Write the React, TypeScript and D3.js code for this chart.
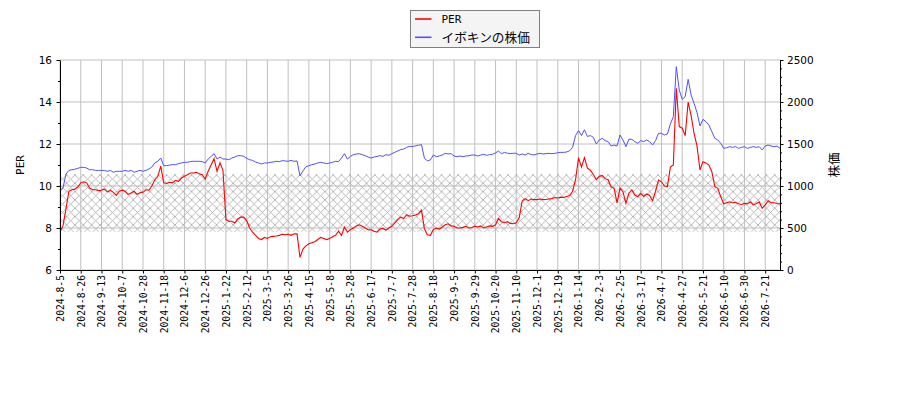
import React, { useEffect, useRef } from 'react';
import * as d3 from 'd3';

// one label every 7 samples (samples are ~2 trading days apart)
const tickLabels = [
  '2024-8-5', '2024-8-26', '2024-9-13', '2024-10-7', '2024-10-28', '2024-11-18', '2024-12-6',
  '2024-12-26', '2025-1-22', '2025-2-12', '2025-3-5', '2025-3-26', '2025-4-15', '2025-5-8',
  '2025-5-28', '2025-6-17', '2025-7-7', '2025-7-28', '2025-8-18', '2025-9-5', '2025-9-29',
  '2025-10-20', '2025-11-10', '2025-12-1', '2025-12-19', '2026-1-14', '2026-2-3', '2026-2-25',
  '2026-3-17', '2026-4-7', '2026-4-27', '2026-5-21', '2026-6-10', '2026-6-30', '2026-7-21',
];

const perValues = [
  7.82, 8.1, 8.9, 9.75, 9.82, 9.85, 9.95,
  10.15, 10.2, 10.15, 9.9, 9.82, 9.82, 9.78,
  9.8, 9.85, 9.72, 9.8, 9.7, 9.55, 9.75,
  9.8, 9.75, 9.6, 9.67, 9.75, 9.6, 9.68,
  9.7, 9.82, 9.8, 10.0, 10.3, 10.45, 10.95,
  10.15, 10.12, 10.18, 10.15, 10.27, 10.22, 10.38,
  10.46, 10.54, 10.62, 10.62, 10.65, 10.58, 10.54,
  10.33, 10.7, 11.0, 11.3, 10.7, 11.1, 10.75,
  8.4, 8.32, 8.32, 8.24, 8.43, 8.52, 8.52,
  8.35, 8.0, 7.8, 7.65, 7.5, 7.45, 7.55,
  7.5, 7.58, 7.6, 7.62, 7.65, 7.7, 7.68,
  7.7, 7.65, 7.72, 7.72, 6.6, 7.0, 7.15,
  7.25, 7.3, 7.35, 7.45, 7.55, 7.5, 7.45,
  7.5, 7.58, 7.65, 7.85, 7.65, 8.05, 7.8,
  7.92, 8.0, 8.1, 8.15, 8.08, 8.0, 7.92,
  7.92, 7.85, 7.8, 7.95, 7.98, 7.9, 8.0,
  8.08, 8.24, 8.4, 8.52, 8.45, 8.63, 8.56,
  8.58, 8.62, 8.68, 8.85, 7.95, 7.68, 7.65,
  7.92, 8.0, 7.95, 8.05, 8.15, 8.2, 8.1,
  8.08, 8.0, 8.0, 8.03, 8.08, 8.0, 8.02,
  8.08, 8.05, 8.1, 8.0, 8.05, 8.1, 8.08,
  8.15, 8.45, 8.3, 8.25, 8.3, 8.22, 8.2,
  8.25, 8.5, 9.3, 9.4, 9.3, 9.38, 9.35,
  9.35, 9.38, 9.35, 9.36, 9.38, 9.4, 9.45,
  9.43, 9.47, 9.45, 9.5, 9.55, 9.75, 10.3,
  11.35, 10.9, 11.35, 10.85, 10.75, 10.55, 10.3,
  10.45, 10.5, 10.35, 10.3, 9.95, 9.9, 9.2,
  9.89, 9.73, 9.17, 9.65, 9.81, 9.57, 9.49,
  9.65, 9.5, 9.62, 9.55, 9.3, 9.75, 10.28,
  10.2, 10.0, 9.97, 10.9, 11.0, 14.65, 12.83,
  12.75, 12.4, 14.0, 13.35, 12.5, 11.9, 10.76,
  11.16, 11.1, 11.0, 10.68, 9.97, 9.89, 9.49,
  9.15, 9.2, 9.25, 9.2, 9.22, 9.15, 9.12,
  9.17, 9.15, 9.25, 9.1, 9.17, 9.24, 8.94,
  9.1, 9.3, 9.2, 9.2, 9.17, 9.15,
];

const priceValues = [
  937, 975, 1140, 1186, 1194, 1200, 1210,
  1222, 1222, 1214, 1194, 1194, 1186, 1186,
  1186, 1186, 1175, 1186, 1163, 1175, 1175,
  1175, 1186, 1175, 1186, 1163, 1175, 1186,
  1175, 1186, 1202, 1226, 1274, 1294, 1333,
  1242, 1242, 1250, 1254, 1254, 1266, 1274,
  1282, 1282, 1290, 1294, 1294, 1294, 1290,
  1274, 1321, 1353, 1385, 1321, 1345, 1321,
  1321, 1313, 1333, 1345, 1361, 1361, 1353,
  1329, 1313, 1305, 1286, 1274, 1262, 1274,
  1274, 1282, 1286, 1294, 1290, 1302, 1298,
  1294, 1305, 1294, 1298, 1120, 1180, 1230,
  1242, 1254, 1262, 1274, 1282, 1274, 1266,
  1274, 1282, 1294, 1290, 1333, 1385, 1321,
  1353, 1373, 1380, 1385, 1373, 1361, 1345,
  1333, 1345, 1353, 1361, 1353, 1373, 1365,
  1385, 1401, 1417, 1433, 1440, 1460, 1472,
  1470, 1478, 1486, 1492, 1330, 1300, 1310,
  1369, 1349, 1357, 1369, 1389, 1381, 1385,
  1357, 1349, 1357, 1349, 1357, 1361, 1369,
  1369, 1357, 1369, 1377, 1365, 1373, 1377,
  1395, 1415, 1385, 1400, 1390, 1385, 1390,
  1389, 1369, 1381, 1369, 1389, 1375, 1369,
  1381, 1389, 1381, 1385, 1389, 1385, 1389,
  1395, 1400, 1400, 1405, 1420, 1460, 1600,
  1660, 1600, 1670, 1590, 1600, 1580, 1500,
  1548, 1567, 1540, 1528, 1476, 1488, 1476,
  1607, 1548, 1468, 1556, 1556, 1528, 1508,
  1540, 1528, 1548, 1528, 1488, 1540, 1627,
  1627, 1607, 1619, 1738, 1825, 2420, 2143,
  2032, 2064, 2270, 2083, 1984, 1873, 1714,
  1794, 1766, 1726, 1647, 1567, 1548, 1508,
  1448, 1455, 1468, 1460, 1470, 1448, 1460,
  1468, 1448, 1460, 1468, 1460, 1468, 1429,
  1476, 1488, 1476, 1468, 1476, 1448,
];

const perBand = [7.82, 10.56];
const perTicks = [6, 8, 10, 12, 14, 16];
const perMinorTicks = [7, 9, 11, 13, 15];
const priceTicks = [0, 500, 1000, 1500, 2000, 2500];
const priceMinorTicks = d3.range(0, 2501, 100).filter((v) => v % 500 !== 0);

const seriesNames = ['PER', 'イボキンの株価'];

const App = () => {
  const ref = useRef<SVGSVGElement>(null);

  useEffect(() => {
    const svg = d3.select(ref.current);
    svg.selectAll('*').remove();

    const left = 60, right = 780, top = 60, bottom = 270;
    const tickStep = 7;
    const red = '#ff0000';
    const blue = '#5050ff';
    const mono = "'DejaVu Sans Mono', monospace";
    const jp = "'Noto Sans CJK JP', sans-serif";

    const x = d3.scaleLinear().domain([0, perValues.length - 1]).range([left, right]);
    const yL = d3.scaleLinear().domain([6, 16]).range([bottom, top]);
    const yR = d3.scaleLinear().domain([0, 2500]).range([bottom, top]);
    const tickIdx = tickLabels.map((_, i) => i * tickStep);

    // hatch pattern
    const T = 8.33;
    const pat = svg.append('defs').append('pattern')
      .attr('id', 'hatch')
      .attr('patternUnits', 'userSpaceOnUse')
      .attr('width', T)
      .attr('height', T);
    pat.append('path')
      .attr('d', `M0,0L${T},${T}M0,${T}L${T},0`)
      .attr('stroke', '#b2b2b2')
      .attr('stroke-width', 0.9)
      .attr('stroke-linecap', 'square');

    // grid
    const grid = svg.append('g').attr('stroke', '#c0c0c0').attr('stroke-width', 1);
    grid.selectAll('.gx').data(tickIdx).enter().append('line')
      .attr('x1', (d) => x(d)).attr('x2', (d) => x(d))
      .attr('y1', top).attr('y2', bottom);
    grid.selectAll('.gy').data(perTicks).enter().append('line')
      .attr('x1', left).attr('x2', right)
      .attr('y1', (d) => yL(d)).attr('y2', (d) => yL(d));

    // hatched band
    svg.append('rect')
      .attr('x', left)
      .attr('y', yL(perBand[1]))
      .attr('width', right - left)
      .attr('height', yL(perBand[0]) - yL(perBand[1]))
      .attr('fill', 'url(#hatch)');

    // lines
    const perLine: any = d3.line<number>().x((_, i) => x(i)).y((d) => yL(d));
    const priceLine: any = d3.line<number>().x((_, i) => x(i)).y((d) => yR(d));
    svg.append('path').datum(perValues)
      .attr('d', perLine).attr('fill', 'none').attr('stroke', red).attr('stroke-width', 1.1);
    svg.append('path').datum(priceValues)
      .attr('d', priceLine).attr('fill', 'none').attr('stroke', blue).attr('stroke-width', 1);

    // axes
    const styleAxis = (g: any, family: string, size: number) => {
      g.selectAll('text').attr('font-family', family).attr('font-size', size).attr('fill', '#000');
      g.selectAll('line').attr('stroke', '#000');
      g.select('.domain').attr('stroke', '#000');
    };

    const gLeft = svg.append('g').attr('transform', `translate(${left},0)`)
      .call(d3.axisLeft(yL).tickValues(perTicks).tickSize(3.5).tickSizeOuter(0).tickPadding(4.5).tickFormat(d3.format('d')));
    styleAxis(gLeft, "'DejaVu Sans', sans-serif", 10.5);
    svg.append('g').attr('transform', `translate(${left},0)`)
      .call(d3.axisLeft(yL).tickValues(perMinorTicks).tickSize(2).tickFormat(() => ''))
      .call((g: any) => g.select('.domain').remove())
      .selectAll('line').attr('stroke', '#000');

    const gRight = svg.append('g').attr('transform', `translate(${right},0)`)
      .call(d3.axisRight(yR).tickValues(priceTicks).tickSize(3.5).tickSizeOuter(0).tickPadding(3.5).tickFormat(d3.format('d')));
    styleAxis(gRight, "'DejaVu Sans', sans-serif", 10.5);
    svg.append('g').attr('transform', `translate(${right},0)`)
      .call(d3.axisRight(yR).tickValues(priceMinorTicks).tickSize(2).tickFormat(() => ''))
      .call((g: any) => g.select('.domain').remove())
      .selectAll('line').attr('stroke', '#000');

    const gBottom = svg.append('g').attr('transform', `translate(0,${bottom})`)
      .call(d3.axisBottom(x).tickValues(tickIdx).tickSize(3.5).tickSizeOuter(0)
        .tickFormat((_: any, i: number) => tickLabels[i]));
    styleAxis(gBottom, mono, 9.7);
    gBottom.selectAll('text')
      .attr('transform', 'rotate(-90)')
      .attr('text-anchor', 'end')
      .attr('x', -5)
      .attr('y', 0)
      .attr('dy', '0.35em');

    // axis titles
    svg.append('text')
      .attr('transform', `translate(20,${(top + bottom) / 2}) rotate(-90)`)
      .attr('text-anchor', 'middle').attr('dy', '0.35em')
      .attr('font-family', mono).attr('font-size', 11)
      .text('PER');
    svg.append('text')
      .attr('transform', `translate(835,${(top + bottom) / 2}) rotate(-90)`)
      .attr('text-anchor', 'middle').attr('dy', '0.35em')
      .attr('font-family', jp).attr('font-size', 12.5)
      .text('株価');

    // legend
    const lg = svg.append('g');
    lg.append('rect')
      .attr('x', 410.5).attr('y', 10.5).attr('width', 129).attr('height', 37)
      .attr('fill', '#f4f4f4').attr('stroke', '#808080').attr('stroke-width', 1);
    [red, blue].forEach((c, i) => {
      const yy = 19 + i * 18.3;
      lg.append('line').attr('x1', 415).attr('x2', 431.5).attr('y1', yy).attr('y2', yy)
        .attr('stroke', c).attr('stroke-width', 1.6);
      lg.append('text').attr('x', 441.5).attr('y', yy).attr('dy', '0.36em')
        .attr('font-family', i === 0 ? mono : jp)
        .attr('font-size', i === 0 ? 11 : 12.7)
        .text(seriesNames[i]);
    });
  }, []);

  return (
    <svg
      ref={ref}
      width={900}
      height={400}
      style={{ position: 'absolute', left: 0, top: 0, background: '#fff' }}
    />
  );
};

export default App;
